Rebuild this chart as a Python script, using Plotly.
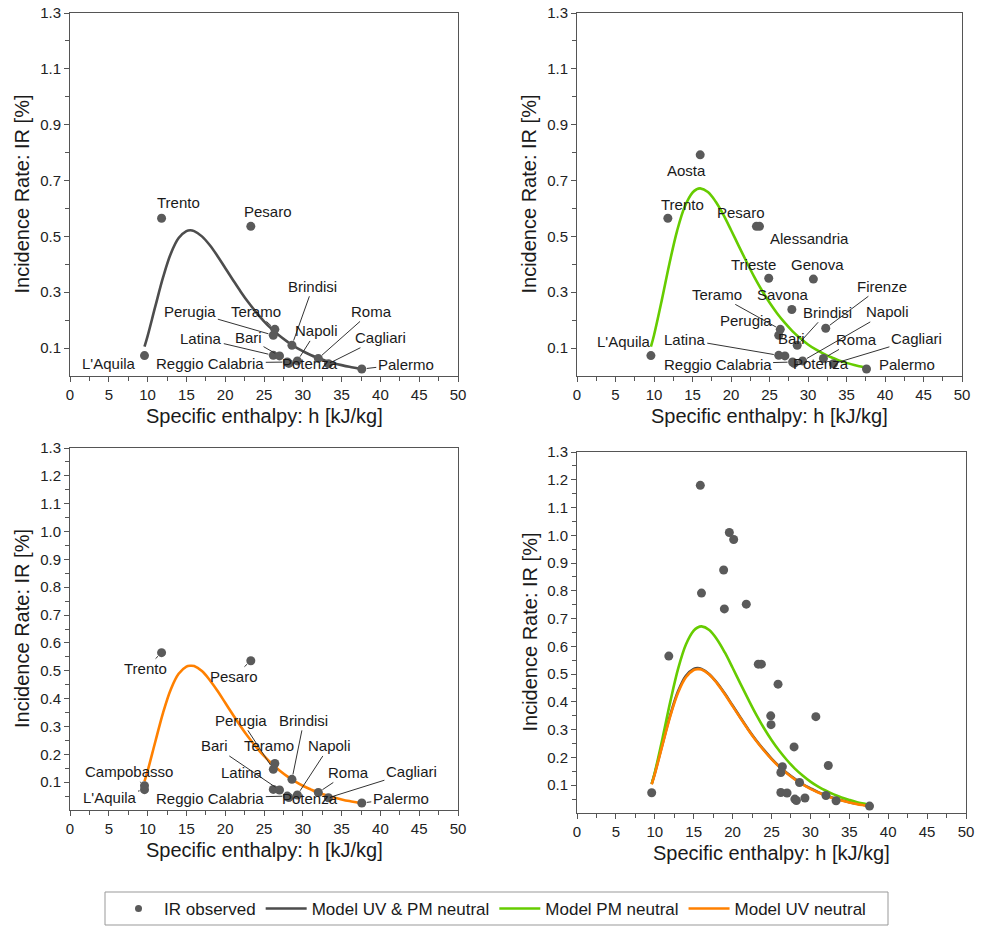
import plotly.graph_objects as go

# ---------------- data ----------------
cities = ["L'Aquila", "Campobasso", "Trento", "Aosta", "Pesaro", "Alessandria", "Trieste", "Genova",
          "Savona", "Firenze", "Teramo", "Perugia", "Brindisi", "Latina", "Bari", "Reggio Calabria",
          "Potenza", "Napoli", "Roma", "Cagliari", "Palermo"]
h_city = [9.6, 9.6, 11.8, 16.0, 23.3, 23.7, 24.9, 30.7, 27.9, 32.3, 26.4, 26.2, 28.6, 26.2, 27.0, 28.0,
          28.2, 29.3, 32.0, 33.3, 37.6]
ir_city = [0.073, 0.087, 0.565, 0.792, 0.536, 0.536, 0.350, 0.347, 0.238, 0.171, 0.167, 0.146, 0.110,
           0.074, 0.072, 0.050, 0.045, 0.054, 0.063, 0.044, 0.025]

# additional observed points (unlabelled, shown only in the combined panel)
h_extra = [15.85, 19.58, 20.14, 18.85, 18.94, 21.76, 25.84, 24.94]
ir_extra = [1.180, 1.010, 0.985, 0.875, 0.735, 0.752, 0.464, 0.318]

# cities shown in each labelled panel
cities_tl = ["Trento", "Pesaro", "L'Aquila", "Perugia", "Teramo", "Brindisi", "Latina", "Bari", "Napoli",
             "Roma", "Cagliari", "Reggio Calabria", "Potenza", "Palermo"]
cities_tr = cities_tl + ["Aosta", "Alessandria", "Trieste", "Genova", "Firenze", "Savona"]
cities_bl = cities_tl + ["Campobasso"]
cities_br = [c for c in cities if c != "Campobasso"]

# model curves
h_model = [9.6, 10, 11, 12, 13, 14, 15, 15.5, 16, 17, 18, 19, 20, 21, 22, 23, 24, 25, 26, 27, 28, 29, 30,
           31, 32, 33, 34, 35, 36, 37, 37.6]
ir_uvpm = [0.105, 0.143, 0.250, 0.354, 0.439, 0.494, 0.519, 0.522, 0.519, 0.500, 0.469, 0.430, 0.387,
           0.344, 0.302, 0.263, 0.228, 0.196, 0.168, 0.144, 0.123, 0.104, 0.089, 0.075, 0.064, 0.054,
           0.046, 0.039, 0.033, 0.028, 0.025]
ir_pm = [0.105, 0.146, 0.270, 0.402, 0.520, 0.607, 0.657, 0.668, 0.672, 0.659, 0.625, 0.578, 0.523,
         0.466, 0.410, 0.356, 0.307, 0.263, 0.224, 0.190, 0.160, 0.135, 0.113, 0.095, 0.080, 0.067,
         0.056, 0.047, 0.039, 0.033, 0.029]
ir_uv = [0.103, 0.140, 0.246, 0.350, 0.434, 0.489, 0.515, 0.518, 0.517, 0.499, 0.467, 0.428, 0.385,
         0.342, 0.300, 0.261, 0.226, 0.194, 0.166, 0.142, 0.121, 0.103, 0.087, 0.074, 0.062, 0.053,
         0.045, 0.038, 0.032, 0.027, 0.024]

x_ticks = [0, 5, 10, 15, 20, 25, 30, 35, 40, 45, 50]
x_minor = [2.5, 7.5, 12.5, 17.5, 22.5, 27.5, 32.5, 37.5, 42.5, 47.5]
y_ticks_top = [0.1, 0.3, 0.5, 0.7, 0.9, 1.1, 1.3]
y_minor_top = [0.2, 0.4, 0.6, 0.8, 1.0, 1.2]
y_ticks_bot = [0.1, 0.2, 0.3, 0.4, 0.5, 0.6, 0.7, 0.8, 0.9, 1.0, 1.1, 1.2, 1.3]
y_minor_bot = [0.05, 0.15, 0.25, 0.35, 0.45, 0.55, 0.65, 0.75, 0.85, 0.95, 1.05, 1.15, 1.25]

# ---------------- styling ----------------
W, H = 981, 927
FONT = "Liberation Sans, Arial, sans-serif"
C_DARK = "#4d4d4d"
C_GREEN = "#66cc00"
C_ORANGE = "#ff8000"
C_PT = "#5a5a5a"
C_AX = "#555555"

# panel boxes in pixels (left, right, top, bottom)
panels = {
    "tl": (70, 458, 13, 376),
    "tr": (577, 962, 13, 376),
    "bl": (70, 458, 448, 810),
    "br": (577, 966, 452, 813),
}
axis_ids = {"tl": ("x", "y"), "tr": ("x2", "y2"), "bl": ("x3", "y3"), "br": ("x4", "y4")}

# label offsets (ax, ay in px) and whether a leader line is drawn
lab_tl = {
    "Trento": (17, -16, False), "Pesaro": (17, -15, False), "L'Aquila": (-36, 8, False),
    "Perugia": (-83, -24, True), "Teramo": (-19, -18, True), "Brindisi": (21, -59, True),
    "Latina": (-72, -17, True), "Bari": (-31, -18, True), "Napoli": (19, -30, True),
    "Roma": (53, -47, True), "Cagliari": (52, -26, True), "Reggio Calabria": (-77, 1, True),
    "Potenza": (21, 0, False), "Palermo": (44, -5, True),
}
lab_tr = {
    "Aosta": (-14, 16, False), "Trento": (15, -14, False), "Pesaro": (-15, -14, False),
    "Alessandria": (50, 12, False), "Trieste": (-15, -14, False), "Genova": (4, -15, False),
    "Firenze": (56, -42, True), "Teramo": (-63, -35, True), "Savona": (-9, -15, False),
    "Perugia": (-33, -15, False), "Brindisi": (30, -33, True), "Bari": (7, -17, False),
    "Latina": (-94, -16, True), "Napoli": (85, -49, True), "Roma": (33, -19, True),
    "Cagliari": (83, -25, True), "Reggio Calabria": (-75, 2, True), "Potenza": (27, 0, False),
    "Palermo": (40, -5, False), "L'Aquila": (-27, -14, False),
}
lab_bl = {
    "Trento": (-16, 16, True), "Pesaro": (-17, 16, True), "Campobasso": (-16, -14, True),
    "L'Aquila": (-35, 8, True), "Perugia": (-32, -49, True), "Brindisi": (12, -59, True),
    "Bari": (-65, -44, True), "Teramo": (-6, -18, False), "Napoli": (32, -49, True),
    "Latina": (-31, -17, False), "Roma": (30, -20, True), "Cagliari": (83, -26, True),
    "Reggio Calabria": (-77, 2, True), "Potenza": (21, 1, False), "Palermo": (39, -5, True),
}

fig = go.Figure()


def subset(names):
    idx = [cities.index(n) for n in names]
    return [h_city[i] for i in idx], [ir_city[i] for i in idx]


def add_curve(panel, y, color, name, show, rank):
    xa, ya = axis_ids[panel]
    fig.add_trace(go.Scatter(x=h_model, y=y, mode="lines", line=dict(color=color, width=2.6, shape="spline"),
                             name=name, showlegend=show, legendrank=rank, xaxis=xa, yaxis=ya,
                             hoverinfo="skip"))


def add_points(panel, xs, ys, show):
    xa, ya = axis_ids[panel]
    fig.add_trace(go.Scatter(x=xs, y=ys, mode="markers", marker=dict(color=C_PT, size=9, line=dict(width=0)),
                             name="IR observed", showlegend=show, legendrank=1, xaxis=xa, yaxis=ya))


# top-left: UV & PM neutral
add_curve("tl", ir_uvpm, C_DARK, "Model UV & PM neutral", False, 2)
add_points("tl", *subset(cities_tl), False)
# top-right: PM neutral
add_curve("tr", ir_pm, C_GREEN, "Model PM neutral", False, 3)
add_points("tr", *subset(cities_tr), False)
# bottom-left: UV neutral
add_curve("bl", ir_uv, C_ORANGE, "Model UV neutral", False, 4)
add_points("bl", *subset(cities_bl), False)
# bottom-right: all models together
add_curve("br", ir_uvpm, C_DARK, "Model UV & PM neutral", True, 2)
add_curve("br", ir_pm, C_GREEN, "Model PM neutral", True, 3)
add_curve("br", ir_uv, C_ORANGE, "Model UV neutral", True, 4)
hb, ib = subset(cities_br)
add_points("br", hb + h_extra, ib + ir_extra, False)
# legend-only marker entry
fig.add_trace(go.Scatter(x=[None], y=[None], mode="markers", marker=dict(color=C_PT, size=7),
                         name="IR observed", showlegend=True, legendrank=1, xaxis="x4", yaxis="y4"))

annotations = []


def add_labels(panel, names, offsets):
    xa, ya = axis_ids[panel]
    for n in names:
        i = cities.index(n)
        ax, ay, line = offsets[n]
        annotations.append(dict(
            x=h_city[i], y=ir_city[i], xref=xa, yref=ya, text=n, showarrow=True,
            ax=ax, ay=ay, arrowhead=0, arrowwidth=1, standoff=5,
            arrowcolor="#333333" if line else "rgba(0,0,0,0)",
            font=dict(family=FONT, size=15, color="#1a1a1a")))


add_labels("tl", cities_tl, lab_tl)
add_labels("tr", cities_tr, lab_tr)
add_labels("bl", cities_bl, lab_bl)

layout_axes = {}
for key, (l, r, t, b) in panels.items():
    xa, ya = axis_ids[key]
    xname = "xaxis" if xa == "x" else "xaxis" + xa[1:]
    yname = "yaxis" if ya == "y" else "yaxis" + ya[1:]
    top = key in ("tl", "tr")
    layout_axes[xname] = dict(
        domain=[l / W, r / W], range=[0, 50], anchor=ya, tickmode="array", tickvals=x_ticks,
        ticks="outside", ticklen=5, tickcolor=C_AX, showline=True, linecolor=C_AX, linewidth=1,
        mirror=True, showgrid=False, zeroline=False,
        tickfont=dict(family=FONT, size=15, color="#222222"),
        minor=dict(tickmode="array", tickvals=x_minor, ticks="outside", ticklen=4, tickcolor=C_AX))
    layout_axes[yname] = dict(
        domain=[1 - b / H, 1 - t / H], range=[0, 1.3], anchor=xa, tickmode="array",
        tickvals=y_ticks_top if top else y_ticks_bot, tickformat=".1f",
        ticks="outside", ticklen=5, tickcolor=C_AX, showline=True, linecolor=C_AX, linewidth=1,
        mirror=True, showgrid=False, zeroline=False,
        tickfont=dict(family=FONT, size=15, color="#222222"),
        minor=dict(tickmode="array", tickvals=y_minor_top if top else y_minor_bot, ticks="outside",
                   ticklen=4, tickcolor=C_AX))
    # axis titles
    annotations.append(dict(text="Specific enthalpy: h [kJ/kg]", xref="paper", yref="paper",
                            x=(l + r) / 2 / W, y=1 - (b + 40) / H, showarrow=False,
                            xanchor="center", yanchor="middle",
                            font=dict(family=FONT, size=20, color="#1a1a1a")))
    annotations.append(dict(text="Incidence Rate: IR [%]", xref="paper", yref="paper",
                            x=(l - 48) / W, y=1 - (t + b) / 2 / H, showarrow=False, textangle=-90,
                            xanchor="center", yanchor="middle",
                            font=dict(family=FONT, size=20, color="#1a1a1a")))

fig.update_layout(
    width=W, height=H, margin=dict(l=0, r=0, t=0, b=0, autoexpand=False),
    paper_bgcolor="white", plot_bgcolor="white",
    font=dict(family=FONT, size=15, color="#1a1a1a"),
    annotations=annotations,
    showlegend=True,
    legend=dict(orientation="h", x=113 / W, y=1 - 909 / H, xanchor="left", yanchor="middle",
                bgcolor="rgba(0,0,0,0)", font=dict(family=FONT, size=17, color="#1a1a1a"),
                traceorder="normal", itemwidth=41),
    shapes=[dict(type="rect", xref="paper", yref="paper", x0=105 / W, x1=888 / W,
                 y0=1 - 925 / H, y1=1 - 892 / H, line=dict(color="#999999", width=1))],
    **layout_axes,
)

fig.write_html("out.html", config={"displayModeBar": False},
               post_script="document.body.style.margin='0';document.body.style.overflow='hidden';")
